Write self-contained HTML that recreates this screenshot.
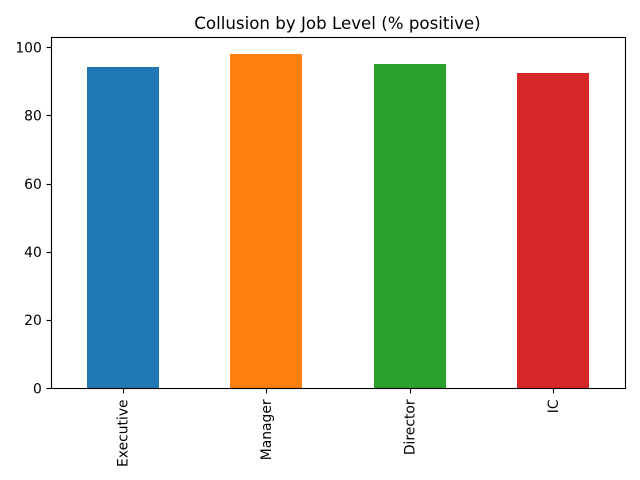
<!DOCTYPE html>
<html>
<head>
<meta charset="utf-8">
<style>
html,body{margin:0;padding:0;background:#fff;width:640px;height:480px;overflow:hidden}
svg{display:block}
text{font-family:"DejaVu Sans","Liberation Sans",sans-serif;fill:#000}
</style>
</head>
<body>
<svg id="chart" xmlns="http://www.w3.org/2000/svg" width="640" height="480" viewBox="0 0 640 480">
<text x="337.5" y="29" text-anchor="middle" font-size="16.67">Collusion by Job Level (% positive)</text>
</svg>
<script>
const categories = ["Executive", "Manager", "Director", "IC"];
const seriesValues = [94.2, 98.0, 95.1, 92.5];
const barColors = ["#1f77b4", "#ff7f0e", "#2ca02c", "#d62728"];
const yTickValues = [0, 20, 40, 60, 80, 100];

const NS = "http://www.w3.org/2000/svg";
const svg = document.getElementById("chart");
const plot = {left: 51, right: 625, top: 37.4, bottom: 388.2};
const yMax = Math.max(...seriesValues) * 1.05;
const barWidthUnits = 0.5;

function xScale(i) {
  return plot.left + (i + 0.5) * (plot.right - plot.left) / categories.length;
}
function yScale(v) {
  return plot.bottom - (v / yMax) * (plot.bottom - plot.top);
}
function snap(p) {
  return Math.round(p) + 0.5;
}
function make(tag, attrs) {
  const el = document.createElementNS(NS, tag);
  for (const k in attrs) el.setAttribute(k, attrs[k]);
  svg.appendChild(el);
  return el;
}

const unit = (plot.right - plot.left) / categories.length;

categories.forEach((c, i) => {
  const x0 = Math.round(xScale(i) - unit * barWidthUnits / 2);
  const x1 = Math.round(xScale(i) + unit * barWidthUnits / 2);
  const top = Math.round(yScale(seriesValues[i]));
  const bottom = Math.round(yScale(0));
  const bar = make("rect", {x: x0, y: top, width: x1 - x0, height: bottom - top, fill: barColors[i]});
  
  
});

yTickValues.forEach(v => {
  const y = yScale(v);
  const tick = make("line", {x1: 46.6, x2: 51.5, y1: snap(y), y2: snap(y), stroke: "#000", "stroke-width": 1.11});
  
  
  const label = make("text", {x: 41.8, y: y + 5.1, "text-anchor": "end", "font-size": 13.89});
  label.textContent = v;
  
  
});

categories.forEach((c, i) => {
  const x = xScale(i);
  const tick = make("line", {x1: snap(x), x2: snap(x), y1: 388.5, y2: 393.4, stroke: "#000", "stroke-width": 1.11});
  
  
  const ly = plot.bottom + 11.2;
  const lx = x + 4.85;
  const label = make("text", {x: lx, y: ly, "text-anchor": "end", "font-size": 13.89, transform: "rotate(-90 " + lx + " " + ly + ")"});
  label.textContent = c;
  
  
});

const frame = make("rect", {x: 51.5, y: 37.5, width: 574, height: 351, fill: "none", stroke: "#000", "stroke-width": 1.11});


</script>
</body>
</html>
